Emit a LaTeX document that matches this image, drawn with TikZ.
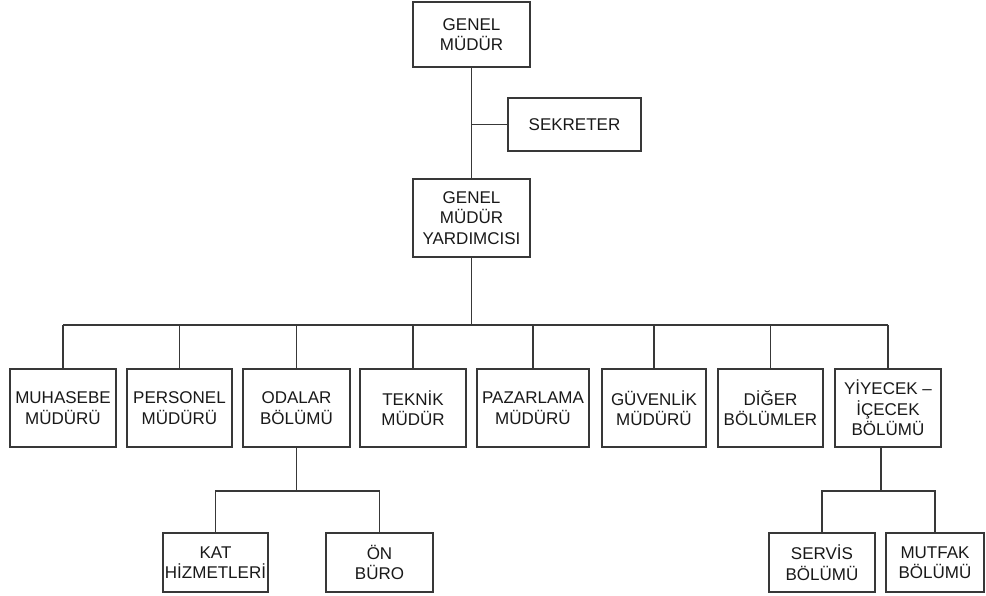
\documentclass[tikz,border=0pt]{standalone}
\usepackage{fontspec}
\setmainfont{Liberation Sans}
\begin{document}
\begin{tikzpicture}[x=1pt,y=-1pt,
  box/.style={draw=black!78, line width=1.5pt, fill=white, align=center,
    inner sep=0pt, font=\fontsize{17}{20.5}\selectfont, text=black!90},
  rowbox/.style={box, minimum height=78pt},
  subbox/.style={box, minimum height=59pt},
  link/.style={draw=black!78, line width=1.5pt}]
\useasboundingbox (0,0) rectangle (986,595);

% top of the hierarchy
\node[box, minimum width=117pt, minimum height=65pt] (gm) at (471.5,34.5) {GENEL\\MÜDÜR};
\node[box, minimum width=133pt, minimum height=53pt] (sek) at (574.5,124.5) {SEKRETER};
\node[box, minimum width=117pt, minimum height=78pt] (gmy) at (471.5,218) {GENEL\\MÜDÜR\\YARDIMCISI};

% departments
\node[rowbox, minimum width=106pt] (muh) at (63,408)    {MUHASEBE\\MÜDÜRÜ};
\node[rowbox, minimum width=105pt] (per) at (179.5,408) {PERSONEL\\MÜDÜRÜ};
\node[rowbox, minimum width=107pt] (oda) at (296.5,408) {ODALAR\\BÖLÜMÜ};
\node[rowbox, minimum width=106pt] (tek) at (413,408)   {TEKNİK\\MÜDÜR};
\node[rowbox, minimum width=112pt] (paz) at (533,408)   {PAZARLAMA\\MÜDÜRÜ};
\node[rowbox, minimum width=104pt] (guv) at (654,408)   {GÜVENLİK\\MÜDÜRÜ};
\node[rowbox, minimum width=105pt] (dig) at (770.5,408) {DİĞER\\BÖLÜMLER};
\node[rowbox, minimum width=106pt] (yiy) at (888,408)   {YİYECEK –\\İÇECEK\\BÖLÜMÜ};

% sub-units
\node[subbox, minimum width=105pt] (kat) at (215.5,562.5) {KAT\\HİZMETLERİ};
\node[subbox, minimum width=107pt] (onb) at (379.5,562.5) {ÖN\\BÜRO};
\node[subbox, minimum width=106pt] (ser) at (822,562.5)   {SERVİS\\BÖLÜMÜ};
\node[subbox, minimum width=98pt]  (mut) at (935,562.5)   {MUTFAK\\BÖLÜMÜ};

% bus levels
\coordinate (bus) at (0,325);
\coordinate (sbus) at (0,491);

% connectors
\draw[link] (gm.south) -- (gmy.north);
\draw[link] (sek.west) -- (sek.west -| gm.south);
\draw[link] (gmy.south) -- (gmy.south |- bus);
\draw[link] (muh.north |- bus) -- (yiy.north |- bus);
\foreach \n in {muh,per,oda,tek,paz,guv,dig,yiy}
  \draw[link] (\n.north) -- (\n.north |- bus);

\draw[link] (oda.south) -- (oda.south |- sbus);
\draw[link] (kat.north) -- (kat.north |- sbus) -- (onb.north |- sbus) -- (onb.north);

\coordinate (ydrop) at ([xshift=-7pt]yiy.south);
\draw[link] (ydrop) -- (ydrop |- sbus);
\draw[link] (ser.north) -- (ser.north |- sbus) -- (mut.north |- sbus) -- (mut.north);
\end{tikzpicture}
\end{document}
